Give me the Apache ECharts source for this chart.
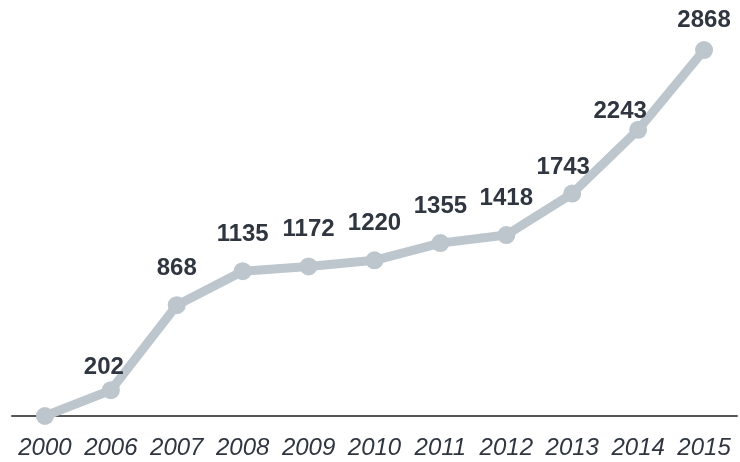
<!DOCTYPE html>
<html>
<head>
<meta charset="utf-8">
<script src="https://cdn.jsdelivr.net/npm/echarts@6/dist/echarts.min.js"></script>
<style>html,body{margin:0;padding:0;background:#fff}#c{width:740px;height:462px}</style>
</head>
<body>
<div id="c"></div>
<script>
const years = ['2000','2006','2007','2008','2009','2010','2011','2012','2013','2014','2015'];
const values = [0, 202, 868, 1135, 1172, 1220, 1355, 1418, 1743, 2243, 2868];
// label nudges (style only), [dx, dy] in px
const labelNudge = [[0,0],[-7,14],[0,0],[0,0],[0,0],[0,0],[0,0],[0,0],[-9,11],[-18,19],[0,7]];

const chart = echarts.init(document.getElementById('c'));
chart.setOption({
  animation: false,
  grid: { left: 12, right: 3, top: 0, bottom: 46 },
  xAxis: {
    type: 'category',
    data: years,
    boundaryGap: true,
    axisLine: { show: true, lineStyle: { color: '#555', width: 2 } },
    axisTick: { show: false },
    axisLabel: {
      color: '#2f3640', fontSize: 24, fontStyle: 'italic',
      fontFamily: 'Liberation Sans, Arial, sans-serif', margin: 20, interval: 0
    }
  },
  yAxis: { type: 'value', min: 0, max: 3260, show: false, splitLine: { show: false } },
  series: [{
    type: 'line',
    data: values.map((v, i) => ({
      value: v,
      label: { show: v > 0, offset: labelNudge[i] }
    })),
    z: 5,
    clip: false,
    symbol: 'circle',
    symbolSize: 18,
    lineStyle: { color: '#bcc6cc', width: 9 },
    itemStyle: { color: '#bcc6cc' },
    label: {
      position: 'top', distance: 16,
      color: '#2f3640', fontSize: 24, fontWeight: 'bold',
      fontFamily: 'Liberation Sans, Arial, sans-serif'
    }
  }]
});
</script>
</body>
</html>
